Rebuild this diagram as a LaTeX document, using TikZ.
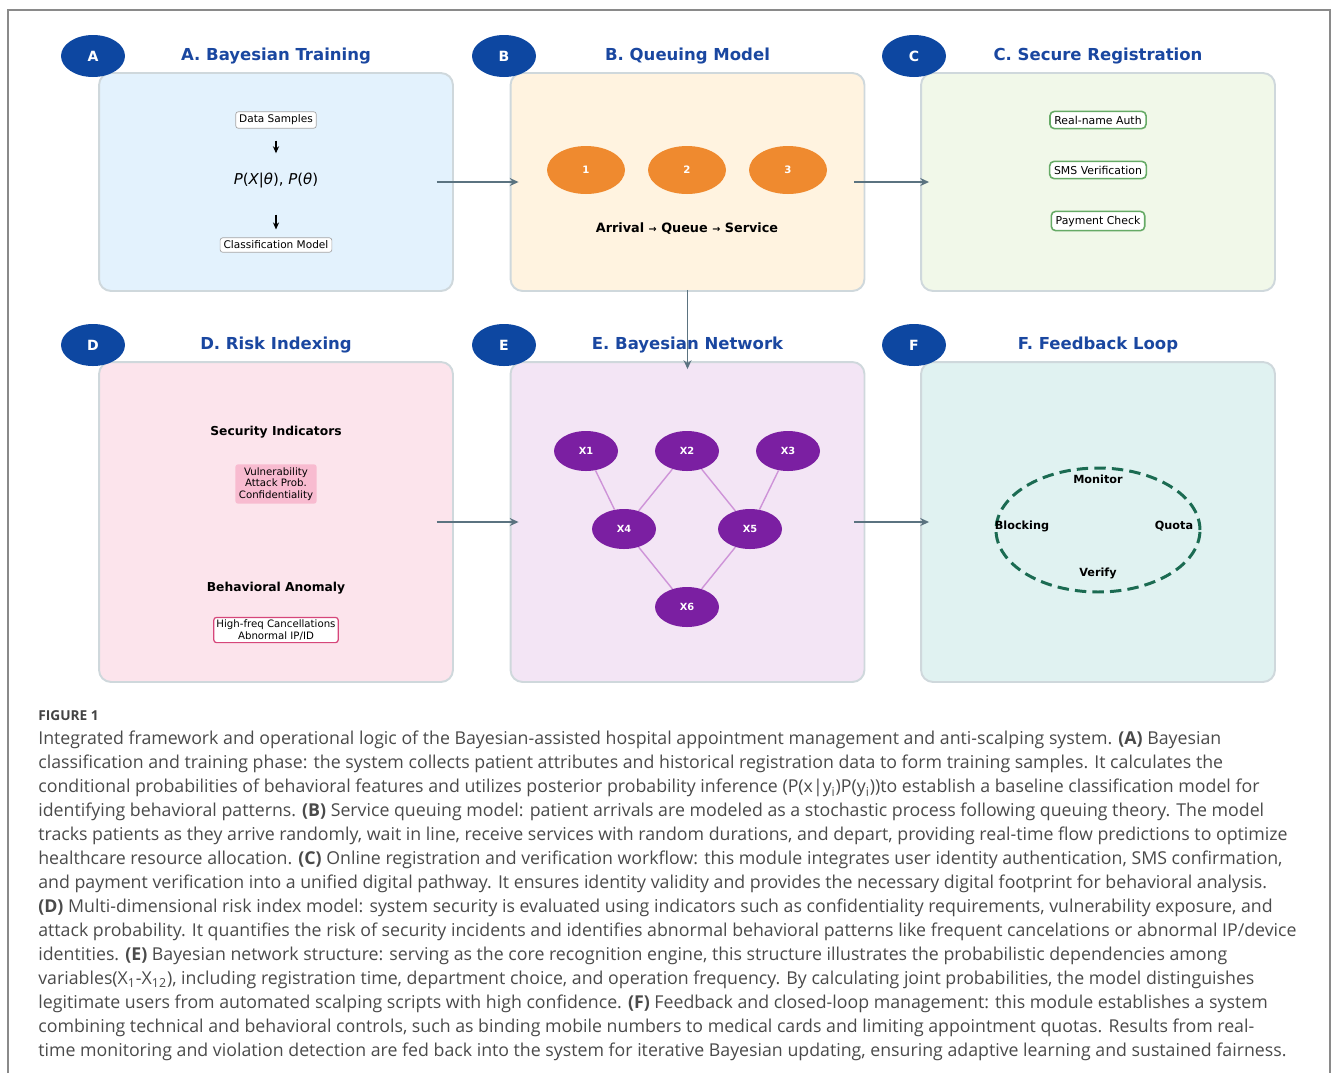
\documentclass[tikz,border=0pt]{standalone}
\usepackage{fontspec}
\setmainfont{DejaVu Sans}
\newfontfamily\capfont{Open Sans}
\usetikzlibrary{positioning, arrows.meta, shapes.geometric}
\definecolor{badgeblue}{HTML}{0D47A1}
\definecolor{titleblue}{HTML}{1A47A0}
\definecolor{panelline}{HTML}{CFD8DC}
\definecolor{flowgray}{HTML}{5B7380}
\definecolor{fillA}{HTML}{E3F2FD}
\definecolor{fillB}{HTML}{FFF3E0}
\definecolor{fillC}{HTML}{F1F8E9}
\definecolor{fillD}{HTML}{FCE4EC}
\definecolor{fillE}{HTML}{F3E5F5}
\definecolor{fillF}{HTML}{E0F2F1}
\definecolor{qorange}{HTML}{EF8A2F}
\definecolor{netpurple}{HTML}{7B1FA2}
\definecolor{netedge}{HTML}{CE93D8}
\definecolor{regreen}{HTML}{66AA66}
\definecolor{riskpink}{HTML}{F8BBD0}
\definecolor{riskred}{HTML}{D6467A}
\definecolor{loopgreen}{HTML}{1B6B52}
\definecolor{captext}{HTML}{4A4A4A}
\definecolor{frameline}{HTML}{8A8A8A}
\tikzset{
  panel/.style={
    draw=panelline,
    line width=1.1pt,
    rounded corners=0.24cm,
    minimum width=7.08cm
  },
  badge/.style={
    ellipse,
    fill=badgeblue,
    text=white,
    inner sep=0pt,
    minimum width=1.28cm,
    minimum height=0.84cm,
    font=\fontsize{8}{9}\selectfont\bfseries
  },
  paneltitle/.style={
    text=titleblue,
    font=\fontsize{9.4}{11}\selectfont\bfseries
  },
  flow/.style={
    draw=flowgray,
    line width=1.1pt,
    -{Stealth[length=5pt, width=4.5pt]}
  },
  smallbox/.style={
    draw=gray!70,
    fill=white,
    rounded corners=1.5pt,
    inner xsep=2pt,
    inner ysep=1.8pt,
    font=\fontsize{6}{7}\selectfont
  },
  downarr/.style={
    line width=0.6pt,
    -{Stealth[length=4pt, width=3.5pt]}
  },
  queue/.style={
    ellipse,
    fill=qorange,
    text=white,
    inner sep=0pt,
    minimum width=1.56cm,
    minimum height=0.96cm,
    font=\fontsize{5.8}{7}\selectfont\bfseries
  },
  regbox/.style={
    draw=regreen,
    line width=0.9pt,
    fill=white,
    rounded corners=2.5pt,
    inner xsep=2.5pt,
    inner ysep=2.5pt,
    font=\fontsize{6.2}{7}\selectfont
  },
  boldlabel/.style={
    font=\fontsize{7}{8}\selectfont\bfseries
  },
  netnode/.style={
    ellipse,
    fill=netpurple,
    text=white,
    inner sep=0pt,
    minimum width=1.28cm,
    minimum height=0.8cm,
    font=\fontsize{5.6}{7}\selectfont\bfseries
  },
  netlink/.style={
    draw=netedge,
    line width=0.8pt
  },
  looplabel/.style={
    font=\fontsize{6.4}{7}\selectfont\bfseries
  }
}

\begin{document}
\begin{tikzpicture}[x=0.02cm, y=-0.02cm]
  \useasboundingbox (0,0) rectangle (1331,1073);
  \draw[frameline, line width=0.6pt] (8,1073) -- (8,10) -- (1330,10) -- (1330,1073);

  % panels
  \node[panel, fill=fillA, minimum height=4.36cm] (pA) at (276,182) {};
  \node[panel, fill=fillB, minimum height=4.36cm] (pB) at (687.5,182) {};
  \node[panel, fill=fillC, minimum height=4.36cm] (pC) at (1098,182) {};
  \node[panel, fill=fillD, minimum height=6.4cm] (pD) at (276,522) {};
  \node[panel, fill=fillE, minimum height=6.4cm] (pE) at (687.5,522) {};
  \node[panel, fill=fillF, minimum height=6.4cm] (pF) at (1098,522) {};

  \node[badge] (bA) at (93,56) {A};
  \node[badge] (bB) at (504,56) {B};
  \node[badge] (bC) at (914,56) {C};
  \node[badge] (bD) at (93,345) {D};
  \node[badge] (bE) at (504,345) {E};
  \node[badge] (bF) at (914,345) {F};

  \node[paneltitle] (tA) at (276,56) {A. Bayesian Training};
  \node[paneltitle] (tB) at (687.5,56) {B. Queuing Model};
  \node[paneltitle] (tC) at (1098,56) {C. Secure Registration};
  \node[paneltitle] (tD) at (276,345) {D. Risk Indexing};
  \node[paneltitle] (tE) at (687.5,345) {E. Bayesian Network};
  \node[paneltitle] (tF) at (1098,345) {F. Feedback Loop};

  % A. training
  \node[smallbox] (samples) at (276,120) {Data Samples};
  \node[font=\fontsize{8.5}{9}\selectfont] (prob) at (276,181) {\itshape P\upshape(\itshape X\upshape|\itshape θ\upshape), \itshape P\upshape(\itshape θ\upshape)};
  \node[smallbox] (model) at (276,245) {Classification Model};
  \draw[downarr, shorten <=0.24cm, shorten >=0.28cm] (samples) -- (prob);
  \draw[downarr, shorten <=0.4cm, shorten >=0.16cm] (prob) -- (model);

  % B. queue
  \node[queue] (q1) at (586,170) {1};
  \node[queue] (q2) at (687,170) {2};
  \node[queue] (q3) at (788,170) {3};
  \node[font=\fontsize{7.3}{8}\selectfont\bfseries] (qtext) at (687,229) {Arrival {\fontsize{5.5}{6}\selectfont→} Queue {\fontsize{5.5}{6}\selectfont→} Service};

  % C. registration
  \node[regbox] (auth) at (1098,120) {Real-name Auth};
  \node[regbox] (sms) at (1098,170) {SMS Verification};
  \node[regbox] (pay) at (1098,221) {Payment Check};

  % D. risk
  \node[boldlabel] (sec) at (276,432) {Security Indicators};
  \node[fill=riskpink, rounded corners=1.5pt, inner sep=2pt, align=center,
        font=\fontsize{5.8}{6.4}\selectfont] (ind) at (276,484) {Vulnerability\\Attack Prob.\\Confidentiality};
  \node[boldlabel] (beh) at (276,588) {Behavioral Anomaly};
  \node[draw=riskred, line width=0.7pt, fill=white, rounded corners=1.5pt, inner xsep=1.5pt, inner ysep=1.5pt,
        align=center, font=\fontsize{5.8}{6.4}\selectfont] (anom) at (276,630) {High-freq Cancellations\\Abnormal IP/ID};

  % E. network
  \node[netnode] (x1) at (586,451) {X1};
  \node[netnode] (x2) at (687,451) {X2};
  \node[netnode] (x3) at (788,451) {X3};
  \node[netnode] (x4) at (624,529) {X4};
  \node[netnode] (x5) at (750,529) {X5};
  \node[netnode] (x6) at (687,607) {X6};
  \draw[netlink] (x1) -- (x4);
  \draw[netlink] (x2) -- (x4);
  \draw[netlink] (x2) -- (x5);
  \draw[netlink] (x3) -- (x5);
  \draw[netlink] (x4) -- (x6);
  \draw[netlink] (x5) -- (x6);

  % F. loop
  \node[draw=loopgreen, line width=1.7pt, dash pattern=on 6.5pt off 3.5pt, ellipse,
        minimum width=4.08cm, minimum height=2.48cm] (loop) at (1098,530) {};
  \node[looplabel] (mon) at (1098,479) {Monitor};
  \node[looplabel] (blk) at (1022,526) {Blocking};
  \node[looplabel] (quo) at (1174,526) {Quota};
  \node[looplabel] (ver) at (1098,573) {Verify};

  % flow between panels
  \draw[flow] ([xshift=-0.34cm]pA.east) -- ([xshift=0.18cm]pB.west);
  \draw[flow] ([xshift=-0.22cm]pB.east) -- ([xshift=0.18cm]pC.west);
  \draw[flow] ([yshift=0.04cm]pB.south) -- ([yshift=-0.16cm]pE.north);
  \draw[flow] ([xshift=-0.34cm]pD.east) -- ([xshift=0.18cm]pE.west);
  \draw[flow] ([xshift=-0.22cm]pE.east) -- ([xshift=0.18cm]pF.west);

  % caption
  \node[anchor=west, inner sep=0pt, text=captext!90!black, font=\capfont\fontsize{7.8}{9}\selectfont\bfseries] (figlabel) at (38,716) {FIGURE 1};
  \node[anchor=north west, inner sep=0pt, align=left, text=captext,
        font=\capfont\fontsize{10.1}{13.66}\selectfont] (caption) at (38,731) {%
    Integrated framework and operational logic of the Bayesian-assisted hospital appointment management and anti-scalping system. \textbf{(A)} Bayesian\\
    classification and training phase: the system collects patient attributes and historical registration data to form training samples. It calculates the\\
    conditional probabilities of behavioral features and utilizes posterior probability inference (P(x|y\textsubscript{i})P(y\textsubscript{i}))to establish a baseline classification model for\\
    identifying behavioral patterns. \textbf{(B)} Service queuing model: patient arrivals are modeled as a stochastic process following queuing theory. The model\\
    tracks patients as they arrive randomly, wait in line, receive services with random durations, and depart, providing real-time flow predictions to optimize\\
    healthcare resource allocation. \textbf{(C)} Online registration and verification workflow: this module integrates user identity authentication, SMS confirmation,\\
    and payment verification into a unified digital pathway. It ensures identity validity and provides the necessary digital footprint for behavioral analysis.\\
    \textbf{(D)} Multi-dimensional risk index model: system security is evaluated using indicators such as confidentiality requirements, vulnerability exposure, and\\
    attack probability. It quantifies the risk of security incidents and identifies abnormal behavioral patterns like frequent cancelations or abnormal IP/device\\
    identities. \textbf{(E)} Bayesian network structure: serving as the core recognition engine, this structure illustrates the probabilistic dependencies among\\
    variables(X\textsubscript{1}-X\textsubscript{12}), including registration time, department choice, and operation frequency. By calculating joint probabilities, the model distinguishes\\
    legitimate users from automated scalping scripts with high confidence. \textbf{(F)} Feedback and closed-loop management: this module establishes a system\\
    combining technical and behavioral controls, such as binding mobile numbers to medical cards and limiting appointment quotas. Results from real-\\
    time monitoring and violation detection are fed back into the system for iterative Bayesian updating, ensuring adaptive learning and sustained fairness.};
\end{tikzpicture}
\end{document}
